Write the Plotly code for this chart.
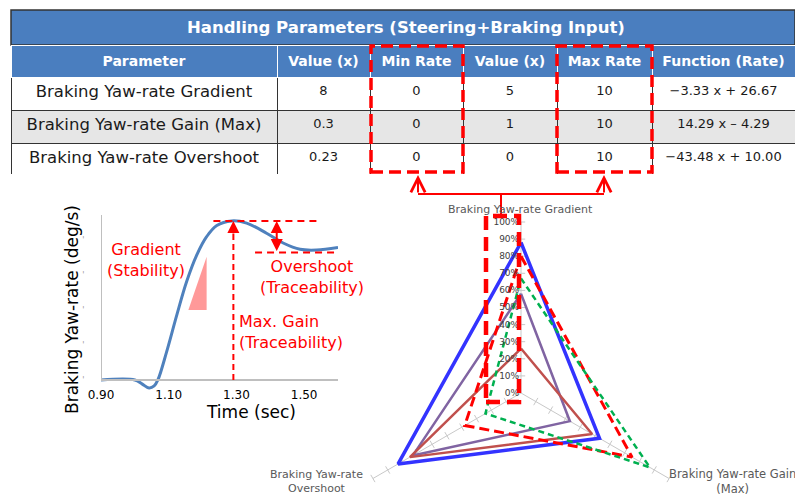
import plotly.graph_objects as go

W, H = 795, 496
FONT = "DejaVu Sans"
RED = "#FF0000"
BLUE_HEAD = "#4A7EBF"


def px(x):
    return x / W


def py(y):
    return 1 - y / H


# ---- table data ----
table_title = "Handling Parameters (Steering+Braking Input)"
header_labels = ["Parameter", "Value (x)", "Min Rate", "Value (x)", "Max Rate", "Function (Rate)"]
parameters = ["Braking Yaw-rate Gradient", "Braking Yaw-rate Gain (Max)", "Braking Yaw-rate Overshoot"]
value_at_min = ["8", "0.3", "0.23"]
min_rate = ["0", "0", "0"]
value_at_max = ["5", "1", "0"]
max_rate = ["10", "10", "10"]
rate_function = ["−3.33 x + 26.67", "14.29 x – 4.29", "−43.48 x + 10.00"]

# ---- step response ----
time_sec = [0.900, 1.000, 1.021, 1.042, 1.057, 1.068, 1.094, 1.124, 1.153, 1.183,
            1.212, 1.242, 1.286, 1.330, 1.389, 1.438, 1.488, 1.537, 1.600]
yaw_rate = [0.00, 0.00, -0.11, -0.23, -0.17, 0.00, 0.81, 1.86, 2.81, 3.57,
            4.09, 4.41, 4.54, 4.48, 4.19, 3.91, 3.73, 3.71, 3.78]
time_ticks = [0.9, 1.1, 1.3, 1.5]

# ---- radar data (%) ----
radar_axes = ["Braking Yaw-rate Gradient", "Braking Yaw-rate Gain (Max)", "Braking Yaw-rate Overshoot"]
case_blue = [88, 53, 83]
case_purple = [58, 33, 73]
case_brown = [26, 48, 75]
case_red = [80, 75, 38]
case_green = [67, 87, 24]
radial_ticks = [0, 10, 20, 30, 40, 50, 60, 70, 80, 90, 100]

fig = go.Figure()

# table
row_fill = ["white", "#E6E6E6", "white"]
fig.add_trace(go.Table(
    domain=dict(x=[px(11), 1], y=[py(174), py(45)]),
    columnwidth=[266, 93, 93, 94, 95, 143],
    header=dict(values=["<b>%s</b>" % h for h in header_labels],
                fill_color=BLUE_HEAD, line=dict(color="white", width=1),
                font=dict(family=FONT, size=14, color="white"),
                align="center", height=31),
    cells=dict(values=[parameters, value_at_min, min_rate, value_at_max, max_rate, rate_function],
               fill_color=[row_fill] * 6, line=dict(color="#333333", width=1),
               font=dict(family=FONT, size=[16.5, 13, 13, 13, 13, 13], color="#1A1A1A"),
               align="center", height=33),
))

# step response curve
fig.add_trace(go.Scatter(x=time_sec, y=yaw_rate, mode="lines", line=dict(color="#4F81BD", width=3, shape="spline"),
                         showlegend=False, hoverinfo="skip"))

# radar spokes + tick marks
for i, ax_name in enumerate(radar_axes):
    fig.add_trace(go.Scatterpolar(r=[0, 100], theta=[ax_name, ax_name], mode="lines",
                                  line=dict(color="#C8C8C8", width=1), showlegend=False,
                                  cliponaxis=False, hoverinfo="skip"))
    fig.add_trace(go.Scatterpolar(r=radial_ticks[1:], theta=[ax_name] * 10, mode="markers",
                                  marker=dict(symbol="line-ew", size=6, angle=[0, -60, 60][i],
                                              line=dict(color="#C8C8C8", width=1)),
                                  showlegend=False, cliponaxis=False, hoverinfo="skip"))

series = [
    (case_blue, "#3333FF", 3.5, "solid"),
    (case_purple, "#8064A2", 2.5, "solid"),
    (case_brown, "#C0504D", 2.5, "solid"),
    (case_red, RED, 3, "10px,5px"),
    (case_green, "#00B050", 2.5, "6px,4px"),
]
for vals, col, lw, dash in series:
    fig.add_trace(go.Scatterpolar(r=vals + vals[:1], theta=radar_axes + radar_axes[:1], mode="lines",
                                  line=dict(color=col, width=lw, dash=dash), showlegend=False,
                                  cliponaxis=False, hoverinfo="skip"))

shapes = [
    # table title bar
    dict(type="rect", xref="paper", yref="paper", x0=px(11), x1=1, y0=py(45), y1=py(10),
         fillcolor=BLUE_HEAD, line=dict(color="#333333", width=1.5), layer="below"),
    # red dashed boxes on the table
    dict(type="rect", xref="paper", yref="paper", x0=px(371), x1=px(463), y0=py(172), y1=py(46),
         line=dict(color=RED, width=3.5, dash="12px,6px")),
    dict(type="rect", xref="paper", yref="paper", x0=px(557), x1=px(652), y0=py(172), y1=py(46),
         line=dict(color=RED, width=3.5, dash="12px,6px")),
    # connectors
    dict(type="line", xref="paper", yref="paper", x0=px(418), x1=px(604), y0=py(194), y1=py(194),
         line=dict(color=RED, width=2)),
    dict(type="line", xref="paper", yref="paper", x0=px(501), x1=px(501), y0=py(194), y1=py(216),
         line=dict(color=RED, width=2)),
    # dashed box round radial labels
    dict(type="rect", xref="paper", yref="paper", x0=px(486), x1=px(519), y0=py(402), y1=py(216),
         line=dict(color=RED, width=4.5, dash="14px,7px")),
    # left chart y-axis line
    dict(type="line", xref="x", yref="y", x0=0.9, x1=0.9, y0=0, y1=4.71,
         line=dict(color="#BFBFBF", width=2)),
    # gradient triangle
    dict(type="path", xref="x", yref="y", path="M 1.158,2.0 L 1.212,3.52 L 1.212,2.0 Z",
         fillcolor="#FF9999", line=dict(width=0)),
    # max gain dashed
    dict(type="line", xref="x", yref="y", x0=1.291, x1=1.291, y0=0, y1=4.3,
         line=dict(color=RED, width=2, dash="6px,4px")),
    dict(type="line", xref="x", yref="y", x0=1.232, x1=1.537, y0=4.54, y1=4.54,
         line=dict(color=RED, width=2, dash="7px,5px")),
    dict(type="line", xref="x", yref="y", x0=1.355, x1=1.6, y0=3.64, y1=3.64,
         line=dict(color=RED, width=2, dash="7px,5px")),
]


def label(text, x, y, size, color, **kw):
    d = dict(text=text, x=px(x), y=py(y), xref="paper", yref="paper", showarrow=False,
             xanchor="center", yanchor="middle", font=dict(family=FONT, size=size, color=color))
    d.update(kw)
    return d


annotations = [
    label("<b>" + table_title + "</b>", 406, 28, 16.5, "white"),
    # arrows from table boxes
    dict(text="", x=px(418), y=py(175), xref="paper", yref="paper", ax=0, ay=19,
         showarrow=True, arrowhead=5, arrowsize=1.4, arrowwidth=2, arrowcolor=RED),
    dict(text="", x=px(604), y=py(175), xref="paper", yref="paper", ax=0, ay=19,
         showarrow=True, arrowhead=5, arrowsize=1.4, arrowwidth=2, arrowcolor=RED),
    # left chart titles
    label("Braking Yaw-rate (deg/s)", 72, 310, 17, "black", textangle=-90),
    label("Time (sec)", 251, 412, 17, "black"),
    # red labels
    label("Gradient<br>(Stability)", 146, 260, 16, RED),
    label("Overshoot<br>(Traceability)", 312, 277, 16, RED),
    label("Max. Gain<br>(Traceability)", 237, 332, 16, RED, xanchor="left", align="left"),
    dict(text="", x=1.291, y=4.54, xref="x", yref="y", ax=0, ay=14,
         showarrow=True, arrowhead=2, arrowsize=1.2, arrowwidth=2, arrowcolor=RED),
    dict(text="", x=1.419, y=4.54, xref="x", yref="y", ax=1.419, ay=3.64, axref="x", ayref="y",
         showarrow=True, arrowhead=2, startarrowhead=2, arrowside="end+start",
         arrowsize=1.2, startarrowsize=1.2, arrowwidth=2, arrowcolor=RED),
    # radar category labels
    label(radar_axes[0], 520, 209, 11, "#595959"),
    label("Braking Yaw-rate<br>Overshoot", 316, 481, 11, "#595959"),
    label("Braking Yaw-rate Gain<br>(Max)", 667, 481, 11.5, "#595959", xanchor="left", align="center"),
]

fig.update_layout(
    width=W, height=H, autosize=False,
    margin=dict(l=0, r=0, t=0, b=0, autoexpand=False),
    paper_bgcolor="white", plot_bgcolor="white",
    font=dict(family=FONT),
    showlegend=False,
    xaxis=dict(domain=[px(101), px(338)], range=[0.9, 1.6], anchor="free", position=py(380),
               showline=True, linecolor="#BFBFBF", linewidth=2, showgrid=False, zeroline=False,
               tickvals=time_ticks, tickformat=".2f", ticks="outside", ticklen=4, tickcolor="rgba(0,0,0,0)",
               tickfont=dict(size=12, color="black")),
    yaxis=dict(domain=[py(390.5), py(215)], range=[-0.3, 4.71], showline=False, showgrid=False,
               zeroline=False, tickvals=[0, 1, 2, 3, 4], ticktext=["'"] * 5, ticks="outside",
               ticklen=14, tickcolor="rgba(0,0,0,0)", tickfont=dict(size=8, color="#999999")),
    polar=dict(
        domain=dict(x=[px(350), px(692)], y=[py(478.5), py(222)]),
        sector=[-30, 210], bgcolor="rgba(0,0,0,0)", hole=0,
        radialaxis=dict(range=[0, 100], angle=90, tickangle=90, side="counterclockwise",
                        tickvals=radial_ticks,
                        ticktext=["%d%%" % v for v in radial_ticks], showgrid=False, showline=False,
                        ticks="", tickfont=dict(size=9, color="#404040")),
        angularaxis=dict(rotation=90, direction="clockwise", showgrid=False, showline=False,
                         showticklabels=False, ticks=""),
    ),
    shapes=shapes,
    annotations=annotations,
)

# the radar only occupies the upper part of its circle; let the closing edges show
unclip = ("document.querySelectorAll('.polarlayer [clip-path]')"
          ".forEach(function(e){e.removeAttribute('clip-path');});")
fig.write_html("out.html", config={"displayModeBar": False},
               post_script="document.body.style.margin='0px';document.body.style.overflow='hidden';" + unclip)
